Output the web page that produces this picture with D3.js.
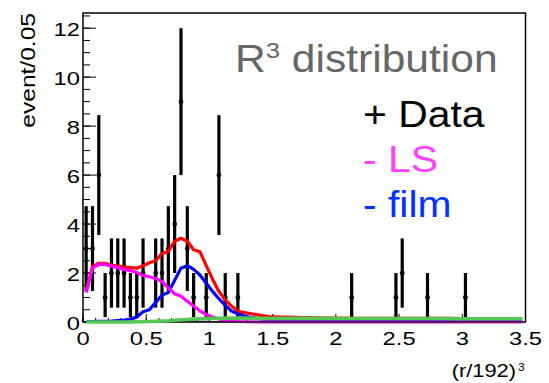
<!DOCTYPE html>
<html>
<head>
<meta charset="utf-8">
<script src="https://cdn.jsdelivr.net/npm/d3@7"></script>
<style>
  body { margin: 0; background: #fff; }
  svg text { font-family: "Liberation Sans", Arial, sans-serif; }
</style>
</head>
<body>
<div id="chart"></div>
<script>
// bin centres of the 0.05-wide histogram bins, 0 .. 3.5
var binCenters = d3.range(70).map(function(i){ return 0.025 + 0.05*i; });

// data points (bin centre, counts)
var dataX = [0.025,0.075,0.125,0.175,0.225,0.275,0.325,0.375,0.425,0.475,0.575,0.625,0.675,
             0.725,0.775,0.825,0.875,0.975,1.075,1.125,1.225,2.125,2.475,2.525,2.725,3.025];
var dataN = [3,3,6,1,2,2,2,1,1,2,2,2,3,4,9,3,1,1,6,1,1,1,1,2,1,1];

// fitted components, one value per bin
var totalFit = [1.25,2.25,2.4,2.4,2.32,2.28,2.24,2.22,2.2,2.3,2.42,2.5,2.8,2.88,3.3,3.42,3.3,2.95,2.87,2.3,
                1.75,1.25,0.9,0.65,0.45,0.38,0.34,0.3,0.25,0.22,0.21,0.2,0.2,0.19,0.18,0.18,0.17,0.17,0.16,0.16,
                0.16,0.16,0.15,0.15,0.15,0.15,0.15,0.15,0.15,0.15,0.15,0.15,0.15,0.15,0.15,0.15,0.15,0.15,0.15,0.14,
                0.14,0.14,0.14,0.14,0.14,0.14,0.14,0.14,0.14,0.14];
var filmFit = [0.02,0.02,0.03,0.03,0.04,0.06,0.08,0.12,0.2,0.42,0.5,0.8,1.1,1.2,1.7,2.2,2.3,2.15,1.92,1.58,
               1.25,0.95,0.68,0.45,0.33,0.24,0.18,0.15,0.12,0.09,0.07,0.06,0.05,0.04,0.04,0.03,0.03,0.03,0.02,0.02,
               0.02,0.02,0.02,0.02,0.02,0.02,0.02,0.02,0.02,0.02,0.02,0.02,0.02,0.02,0.02,0.02,0.02,0.02,0.02,0.02,
               0.02,0.02,0.02,0.02,0.02,0.02,0.02,0.02,0.02,0.02];
var lsFit = [1.2,2.2,2.35,2.35,2.28,2.22,2.15,2.1,2.02,1.9,1.85,1.78,1.65,1.4,1.15,1.05,0.85,0.65,0.45,0.3,
             0.2,0.12,0.07,0.04,0.02,0.01,0.01,0,0,0,0,0,0,0,0,0,0,0,0,0,
             0,0,0,0,0,0,0,0,0,0,0,0,0,0,0,0,0,0,0,0,
             0,0,0,0,0,0,0,0,0,0];
var bkgFit = [0,0,0,0,0,0,0,0,0.01,0.01,0.02,0.03,0.04,0.05,0.07,0.09,0.1,0.12,0.13,0.14,
              0.15,0.15,0.16,0.16,0.16,0.16,0.15,0.15,0.15,0.15,0.15,0.15,0.15,0.15,0.15,0.15,0.15,0.15,0.15,0.15,
              0.14,0.14,0.14,0.14,0.14,0.14,0.14,0.14,0.14,0.14,0.14,0.14,0.14,0.14,0.14,0.14,0.14,0.14,0.13,0.13,
              0.13,0.13,0.13,0.13,0.13,0.13,0.13,0.13,0.13,0.13];
var otherFit = [0,0,0,0,0,0,0,0,0,0,0,0.01,0.02,0.02,0.03,0.03,0.03,0.03,0.02,0.02,
                0.01,0.01,0,0,0,0,0,0,0,0,0,0,0,0,0,0,0,0,0,0,
                0,0,0,0,0,0,0,0,0,0,0,0,0,0,0,0,0,0,0,0,
                0,0,0,0,0,0,0,0,0,0];

var xTicks = [0,0.5,1,1.5,2,2.5,3,3.5];
var xTickLabels = ['0','0.5','1','1.5','2','2.5','3','3.5'];
var yTicks = [0,2,4,6,8,10,12];
var yTickLabels = ['0','2','4','6','8','10','12'];

var legendLabels = ['+ Data','- LS','- film'];
var legendColors = ['#000000','#ff40ff','#0033ff'];

var W = 549, H = 383;
var padL = 83, padR = 525.5, padT = 13, padB = 322;

var svg = d3.select('#chart').append('svg')
	.attr('width', W)
	.attr('height', H);

var x = d3.scaleLinear().domain([0,3.5]).range([padL,padR]);
var y = d3.scaleLinear().domain([0,12.62]).range([padB,padT]);

// text helper: the reference glyphs are wider than Liberation Sans, so stretch them
function label(px, py, str, size, sx, anchor, color){
	return svg.append('text')
		.attr('transform','translate('+px+','+py+') scale('+sx+',1)')
		.attr('text-anchor', anchor)
		.attr('font-size', size)
		.attr('fill', color || '#000')
		.text(str);
}

// frame (curves sit on top of it)
svg.append('rect')
	.attr('x', padL).attr('y', padT)
	.attr('width', padR-padL).attr('height', padB-padT)
	.attr('fill','none').attr('stroke','#000').attr('stroke-width',1.5);

// ticks
var xMinor = d3.range(0,3.51,0.1);
svg.selectAll('.xminor').data(xMinor).enter().append('line')
	.attr('x1', function(d){ return x(d); }).attr('x2', function(d){ return x(d); })
	.attr('y1', padB).attr('y2', padB-4)
	.attr('stroke','#000').attr('stroke-width',1);
svg.selectAll('.xmajor').data(xTicks).enter().append('line')
	.attr('x1', function(d){ return x(d); }).attr('x2', function(d){ return x(d); })
	.attr('y1', padB).attr('y2', padB-8)
	.attr('stroke','#000').attr('stroke-width',1);
var yMinor = d3.range(0,12.6,0.5);
svg.selectAll('.yminor').data(yMinor).enter().append('line')
	.attr('x1', padL).attr('x2', padL+7)
	.attr('y1', function(d){ return y(d); }).attr('y2', function(d){ return y(d); })
	.attr('stroke','#000').attr('stroke-width',1);
svg.selectAll('.ymajor').data(yTicks).enter().append('line')
	.attr('x1', padL).attr('x2', padL+13)
	.attr('y1', function(d){ return y(d); }).attr('y2', function(d){ return y(d); })
	.attr('stroke','#000').attr('stroke-width',1);

// data: error bars and markers
var dataPts = dataX.map(function(d,i){ return {x:d, n:dataN[i]}; });
svg.selectAll('.err').data(dataPts).enter().append('line')
	.attr('x1', function(d){ return x(d.x); }).attr('x2', function(d){ return x(d.x); })
	.attr('y1', function(d){ return y(d.n+Math.sqrt(d.n)); })
	.attr('y2', function(d){ return y(Math.max(0.2,d.n-Math.sqrt(d.n))); })
	.attr('stroke','#000').attr('stroke-width',3.2);
svg.selectAll('.pt').data(dataPts).enter().append('circle')
	.attr('cx', function(d){ return x(d.x); })
	.attr('cy', function(d){ return y(d.n); })
	.attr('r', 2.4).attr('fill','#000');

// fit curves
var line = d3.line()
	.x(function(d,i){ return x(binCenters[i]); })
	.y(function(d){ return y(d); });

function drawCurve(vals, color, w){
	svg.append('path').datum(vals)
		.attr('d', line)
		.attr('fill','none')
		.attr('stroke', color)
		.attr('stroke-width', w)
		.attr('stroke-linejoin','round');
}
drawCurve(totalFit, '#ff0000', 3.2);
drawCurve(filmFit, '#0000ff', 3.2);
drawCurve(lsFit, '#ff00ff', 3.2);
drawCurve(otherFit, '#222222', 1.5);
drawCurve(bkgFit, '#55c755', 3.6);

// tick labels
xTicks.forEach(function(d,i){
	label(x(d), 345, xTickLabels[i], 19, 1.25, 'middle');
});
yTicks.forEach(function(d,i){
	label(80, y(d)+7.5, yTickLabels[i], 19, 1.25, 'end');
});

// axis titles
svg.append('text')
	.attr('transform','translate(35,13) rotate(-90) scale(1.17,1)')
	.attr('text-anchor','end')
	.attr('font-size', 21)
	.text('event/0.05');
label(516, 377, '(r/192)', 19, 1.15, 'end');
label(518, 371, '3', 11, 1.1, 'start');

// title and legend text
var title = svg.append('text')
	.attr('transform','translate(235,72) scale(1.12,1)')
	.attr('font-size', 38)
	.attr('fill','#666666');
title.append('tspan').text('R');
title.append('tspan').attr('font-size', 23).attr('dy', -14).text('3');
title.append('tspan').attr('dy', 14).text(' distribution');

legendLabels.forEach(function(d,i){
	label(363, 127 + i*45, d, 36.5, 1.12, 'start', legendColors[i]);
});
</script>
</body>
</html>
